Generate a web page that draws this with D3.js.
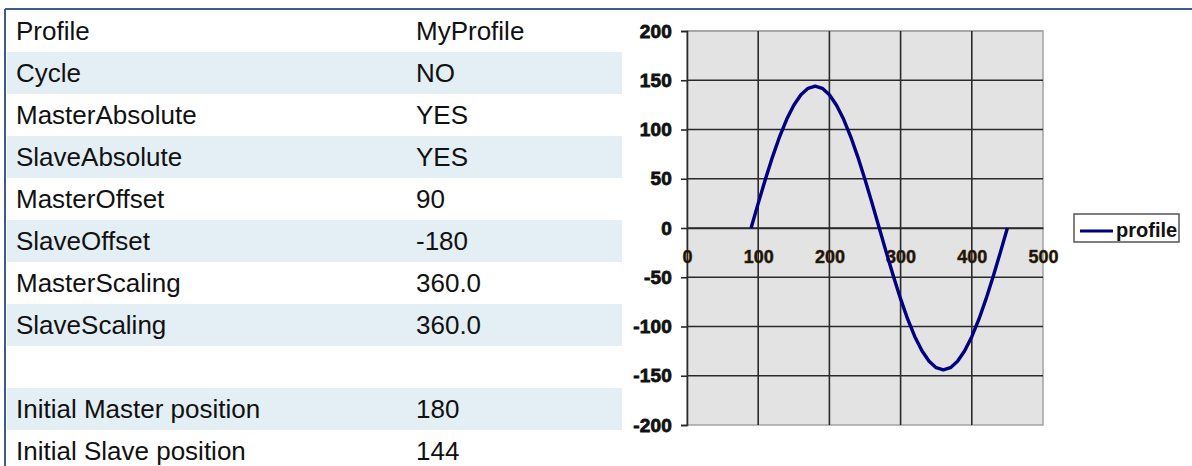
<!DOCTYPE html>
<html>
<head>
<meta charset="utf-8">
<script src="https://cdn.jsdelivr.net/npm/d3@7"></script>
<style>
  html, body { margin: 0; padding: 0; background: #fff; }
  svg { display: block; }
</style>
</head>
<body>
<svg id="chart" width="1192" height="466"></svg>
<script>
// Cam profile parameters shown in the table
const paramNames = ["Profile", "Cycle", "MasterAbsolute", "SlaveAbsolute", "MasterOffset",
  "SlaveOffset", "MasterScaling", "SlaveScaling", "", "Initial Master position", "Initial Slave position"];
const paramValues = ["MyProfile", "NO", "YES", "YES", "90", "-180", "360.0", "360.0", "", "180", "144"];

// Profile points: master position (x) vs slave position (y)
const masterPos = [90, 100, 110, 120, 130, 140, 150, 160, 170, 180, 190, 200, 210, 220, 230, 240, 250, 260,
  270, 280, 290, 300, 310, 320, 330, 340, 350, 360, 370, 380, 390, 400, 410, 420, 430, 440, 450];
const slavePos = [0, 25.0, 49.3, 72.0, 92.6, 110.3, 124.7, 135.3, 141.8, 144.0, 141.8, 135.3, 124.7, 110.3,
  92.6, 72.0, 49.3, 25.0, 0, -25.0, -49.3, -72.0, -92.6, -110.3, -124.7, -135.3, -141.8, -144.0, -141.8,
  -135.3, -124.7, -110.3, -92.6, -72.0, -49.3, -25.0, 0];

const xTicks = [0, 100, 200, 300, 400, 500];
const yTicks = [200, 150, 100, 50, 0, -50, -100, -150, -200];
const seriesName = "profile";

const svg = d3.select("#chart");
const font = "Liberation Sans, Arial, sans-serif";

// Outer frame (top and left rules)
const frameColor = "#3e5b8c";
svg.append("line").attr("x1", 5).attr("x2", 1192).attr("y1", 9).attr("y2", 9)
  .attr("stroke", frameColor).attr("stroke-width", 2);
svg.append("line").attr("x1", 5).attr("x2", 5).attr("y1", 9).attr("y2", 466)
  .attr("stroke", frameColor).attr("stroke-width", 2);

// Parameter table
const rowY = d3.scaleBand().domain(d3.range(paramNames.length)).range([10, 10 + 42 * paramNames.length]).padding(0);
const table = svg.append("g").attr("class", "table");
table.selectAll("rect.band")
  .data(d3.range(paramNames.length).filter(i => i % 2 === 1))
  .join("rect")
  .attr("class", "band")
  .attr("x", 7).attr("width", 615)
  .attr("y", i => rowY(i)).attr("height", rowY.bandwidth())
  .attr("fill", "#e4eff5");

const rows = table.selectAll("g.row")
  .data(paramNames.map((n, i) => ({ name: n, value: paramValues[i], i })))
  .join("g").attr("class", "row");
rows.append("text")
  .attr("x", 16).attr("y", d => rowY(d.i) + rowY.bandwidth() / 2 + 9)
  .attr("font-family", font).attr("font-size", 26)
  .attr("fill", "#111").text(d => d.name);
rows.append("text")
  .attr("x", 416).attr("y", d => rowY(d.i) + rowY.bandwidth() / 2 + 9)
  .attr("font-family", font).attr("font-size", 26)
  .attr("fill", "#111").text(d => d.value);

// Chart
const plot = { left: 687, right: 1043, top: 31, bottom: 425 };
const x = d3.scaleLinear().domain([0, 500]).range([plot.left, plot.right]);
const y = d3.scaleLinear().domain([-200, 200]).range([plot.bottom, plot.top]);

const chart = svg.append("g").attr("class", "chart");
chart.append("rect")
  .attr("x", plot.left).attr("y", plot.top)
  .attr("width", plot.right - plot.left).attr("height", plot.bottom - plot.top)
  .attr("fill", "#e3e3e3").attr("stroke", "#a3a3a3").attr("stroke-width", 1.5);

// Grid
chart.selectAll("line.hgrid").data(yTicks.filter(v => v !== -200)).join("line")
  .attr("class", "hgrid")
  .attr("x1", plot.left).attr("x2", plot.right)
  .attr("y1", d => y(d)).attr("y2", d => y(d))
  .attr("stroke", d => d === 200 ? "#a3a3a3" : "#2a2a2a").attr("stroke-width", 1.6);
chart.selectAll("line.vgrid").data(xTicks.filter(v => v !== 0 && v !== 500)).join("line")
  .attr("class", "vgrid")
  .attr("x1", d => x(d)).attr("x2", d => x(d))
  .attr("y1", plot.top).attr("y2", plot.bottom)
  .attr("stroke", "#2a2a2a").attr("stroke-width", 1.6);

// Y axis
const yAxis = d3.axisLeft(y).tickValues(yTicks).tickSize(6).tickPadding(9).tickFormat(d => String(d));
const yg = chart.append("g").attr("transform", `translate(${plot.left},0)`).call(yAxis);
yg.select(".domain").attr("stroke", "#2a2a2a").attr("stroke-width", 1.6);
yg.selectAll(".tick line").attr("stroke", "#2a2a2a").attr("stroke-width", 1.6);
yg.selectAll(".tick text")
  .attr("font-family", font).attr("font-size", 19)
  .attr("font-weight", "bold").attr("fill", "#111")
  .attr("stroke", "#111").attr("stroke-width", 0.8)
  .attr("letter-spacing", 0.2);

// X axis labels sit just under the zero line
const xAxis = d3.axisBottom(x).tickValues(xTicks).tickSize(0).tickPadding(22).tickFormat(d => String(d));
const xg = chart.append("g").attr("transform", `translate(0,${y(0)})`).call(xAxis);
xg.select(".domain").attr("stroke", "#2a2a2a").attr("stroke-width", 1.6);
xg.selectAll(".tick text")
  .attr("font-family", font).attr("font-size", 18)
  .attr("font-weight", "bold").attr("fill", "#1a1208")
  .attr("stroke", "#3a2a10").attr("stroke-width", 0.5);

// Profile line
const line = d3.line().x((d, i) => x(masterPos[i])).y(d => y(d));
chart.append("path")
  .datum(slavePos)
  .attr("d", line)
  .attr("fill", "none")
  .attr("stroke", "#000080")
  .attr("stroke-width", 3.4)
  .attr("stroke-linejoin", "round");

// Legend
const legend = svg.append("g").attr("class", "legend");
legend.append("rect").attr("x", 1074).attr("y", 214).attr("width", 105).attr("height", 28)
  .attr("fill", "#fff").attr("stroke", "#555").attr("stroke-width", 1.5);
legend.append("line").attr("x1", 1080).attr("x2", 1113).attr("y1", 231).attr("y2", 231)
  .attr("stroke", "#000080").attr("stroke-width", 3.2);
legend.append("text").attr("x", 1116).attr("y", 237)
  .attr("font-family", font).attr("font-size", 20)
  .attr("font-weight", "bold").attr("fill", "#111").text(seriesName);
</script>
</body>
</html>
